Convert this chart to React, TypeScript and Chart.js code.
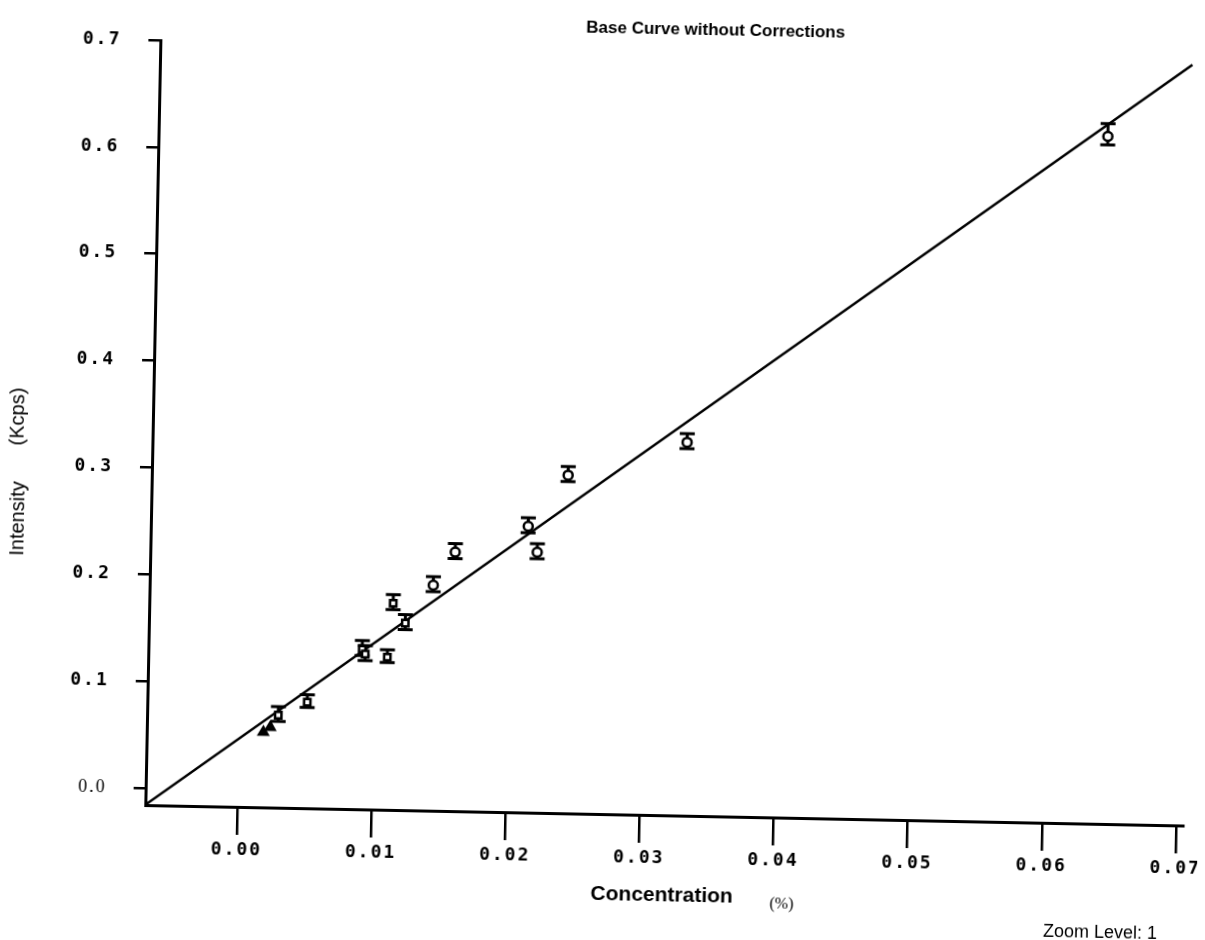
import React, { useEffect, useRef } from "react";
import { Chart, registerables } from "chart.js";

Chart.register(...registerables);

// ---- data ----
const concentration = [0.00183, 0.00234, 0.00292, 0.00506, 0.00908, 0.00931, 0.01096, 0.01132, 0.01225, 0.01428, 0.01587, 0.02127, 0.02198, 0.02417, 0.03299, 0.0639];
const intensity = [0.0545, 0.0593, 0.0707, 0.0833, 0.134, 0.1294, 0.1269, 0.1775, 0.1591, 0.1951, 0.2264, 0.252, 0.2279, 0.3005, 0.3335, 0.6275];
const errHigh = [0, 0, 0.008, 0.007, 0.008, 0.008, 0.007, 0.008, 0.008, 0.008, 0.008, 0.008, 0.008, 0.008, 0.008, 0.012];
const errLow = [0, 0, 0.006, 0.005, 0.006, 0.006, 0.005, 0.006, 0.006, 0.006, 0.006, 0.006, 0.006, 0.006, 0.006, 0.008];

const fitX = [-0.0069, 0.0701];
const fitY = [-0.016, 0.696];

const xTickValues = [0, 0.01, 0.02, 0.03, 0.04, 0.05, 0.06, 0.07];
const xTickLabels = ["0.00", "0.01", "0.02", "0.03", "0.04", "0.05", "0.06", "0.07"];
const yTickValues = [0, 0.1, 0.2, 0.3, 0.4, 0.5, 0.6, 0.7];
const yTickLabels = ["0.0", "0.1", "0.2", "0.3", "0.4", "0.5", "0.6", "0.7"];

const titleText = "Base Curve without Corrections";
const xTitle = "Concentration";
const xUnit = "(%)";
const yTitleA = "Intensity";
const yTitleB = "(Kcps)";
const zoomText = "Zoom Level: 1";

const markerStyles = ["triangle", "triangle", "rect", "rect", "rect", "rect", "rect", "rect", "rect", "circle", "circle", "circle", "circle", "circle", "circle", "circle"];

const W = 1205;
const H = 940;

const spacingPlugin = {
  id: "spacing",
  beforeDraw(chart: any) {
    const ctx = chart.ctx;
    ctx.save();
    ctx.fillStyle = "#ffffff";
    ctx.fillRect(0, 0, chart.width, chart.height);
    ctx.restore();
    try { (ctx as any).letterSpacing = "2px"; } catch (e) {}
  },
  afterDraw(chart: any) {
    const ctx = chart.ctx;
    try { (ctx as any).letterSpacing = "0px"; } catch (e) {}
    ctx.save();
    ctx.fillStyle = "#000";
    ctx.textBaseline = "middle";
    ctx.textAlign = "center";
    ctx.font = "bold 17px 'Liberation Sans', Arial, sans-serif";
    ctx.fillText(titleText, 707, 28);
    ctx.font = "bold 21px 'Liberation Sans', Arial, sans-serif";
    ctx.fillText(xTitle, 670, 894);
    ctx.font = "16px 'Liberation Serif', serif";
    ctx.fillText(xUnit, 790, 901);
    ctx.font = "18px 'Liberation Sans', Arial, sans-serif";
    ctx.fillText(zoomText, 1109, 923);
    ctx.save();
    ctx.translate(19, 530);
    ctx.rotate(-Math.PI / 2);
    ctx.font = "20px 'Liberation Sans', Arial, sans-serif";
    ctx.fillText(yTitleA, 0, 0);
    ctx.restore();
    ctx.save();
    ctx.translate(17, 428);
    ctx.rotate(-Math.PI / 2);
    ctx.font = "20px 'Liberation Sans', Arial, sans-serif";
    ctx.fillText(yTitleB, 0, 0);
    ctx.restore();
    ctx.restore();
  },
};

const errorBarPlugin = {
  id: "errorBars",
  beforeDatasetsDraw(chart: any) {
    const ctx = chart.ctx;
    const xs = chart.scales.x;
    const ys = chart.scales.y;
    ctx.save();
    ctx.strokeStyle = "#000";
    ctx.lineWidth = 3;
    for (let i = 0; i < concentration.length; i++) {
      if (errHigh[i] === 0 && errLow[i] === 0) continue;
      const px = xs.getPixelForValue(concentration[i]);
      const top = ys.getPixelForValue(intensity[i] + errHigh[i]);
      const bot = ys.getPixelForValue(intensity[i] - errLow[i]);
      ctx.beginPath();
      ctx.moveTo(px, top);
      ctx.lineTo(px, bot);
      ctx.moveTo(px - 7.5, top);
      ctx.lineTo(px + 7.5, top);
      ctx.moveTo(px - 7.5, bot);
      ctx.lineTo(px + 7.5, bot);
      ctx.stroke();
    }
    ctx.restore();
  },
};

export default function App() {
  const ref = useRef<HTMLCanvasElement | null>(null);

  useEffect(() => {
    if (!ref.current) return;
    const tickFont = { family: "'DejaVu Sans Mono', monospace", size: 18, weight: "bold" as const };
    const zeroFont = { family: "'Liberation Serif', serif", size: 18, weight: "normal" as const };
    const chart = new Chart(ref.current, {
      type: "scatter",
      data: {
        datasets: [
          {
            type: "scatter",
            label: "Standards",
            data: concentration.map((x, i) => ({ x, y: intensity[i] })),
            pointStyle: markerStyles as any,
            pointRadius: concentration.map((_, i) => (markerStyles[i] === "triangle" ? 5 : 4.5)),
            pointBorderWidth: 2.5,
            pointBorderColor: "#000",
            pointBackgroundColor: concentration.map((_, i) => (markerStyles[i] === "triangle" ? "#000" : "#fff")),
          },
          {
            type: "line",
            label: "Base curve",
            data: fitX.map((x, i) => ({ x, y: fitY[i] })),
            borderColor: "#000",
            borderWidth: 2.5,
            pointRadius: 0,
            fill: false,
          } as any,
        ],
      },
      options: {
        animation: false,
        responsive: false,
        devicePixelRatio: 1,
        layout: { padding: { top: 49, right: 15, left: 0, bottom: 0 } },
        plugins: {
          legend: { display: false },
          title: { display: false },
          tooltip: { enabled: false },
        },
        scales: {
          x: {
            type: "linear",
            min: -0.00686,
            max: 0.07052,
            afterBuildTicks: (s: any) => {
              s.ticks = xTickValues.map((v) => ({ value: v }));
            },
            afterFit: (s: any) => {
              s.height = 126;
              s.paddingLeft = 0;
              s.paddingRight = 0;
            },
            ticks: {
              callback: (_v: any, i: number) => xTickLabels[i],
              color: "#000",
              font: tickFont,
              padding: 5,
              maxRotation: 0,
              autoSkip: false,
            },
            grid: {
              drawOnChartArea: false,
              drawTicks: true,
              tickLength: 28,
              color: "#000",
              lineWidth: 2.5,
            },
            border: { display: true, color: "#000", width: 3 },
          },
          y: {
            type: "linear",
            min: -0.0159,
            max: 0.7,
            afterBuildTicks: (s: any) => {
              s.ticks = yTickValues.map((v) => ({ value: v }));
            },
            afterFit: (s: any) => {
              s.width = 152;
            },
            ticks: {
              callback: (_v: any, i: number) => yTickLabels[i],
              color: "#000",
              font: (c: any) => (c.index === 0 ? zeroFont : tickFont),
              padding: 27,
              autoSkip: false,
            },
            grid: {
              drawOnChartArea: false,
              drawTicks: true,
              tickLength: 12,
              color: "#000",
              lineWidth: 2.5,
            },
            border: { display: true, color: "#000", width: 3 },
          },
        },
      },
      plugins: [spacingPlugin, errorBarPlugin],
    });
    return () => chart.destroy();
  }, []);

  return (
    <div style={{ position: "fixed", left: 0, top: 0, width: W, height: H, overflow: "hidden", background: "#fff" }}>
      <canvas
        ref={ref}
        width={W}
        height={H}
        style={{ width: W, height: H, display: "block", transform: "rotate(1.13deg)", transformOrigin: "50% 50%" }}
      />
    </div>
  );
}
